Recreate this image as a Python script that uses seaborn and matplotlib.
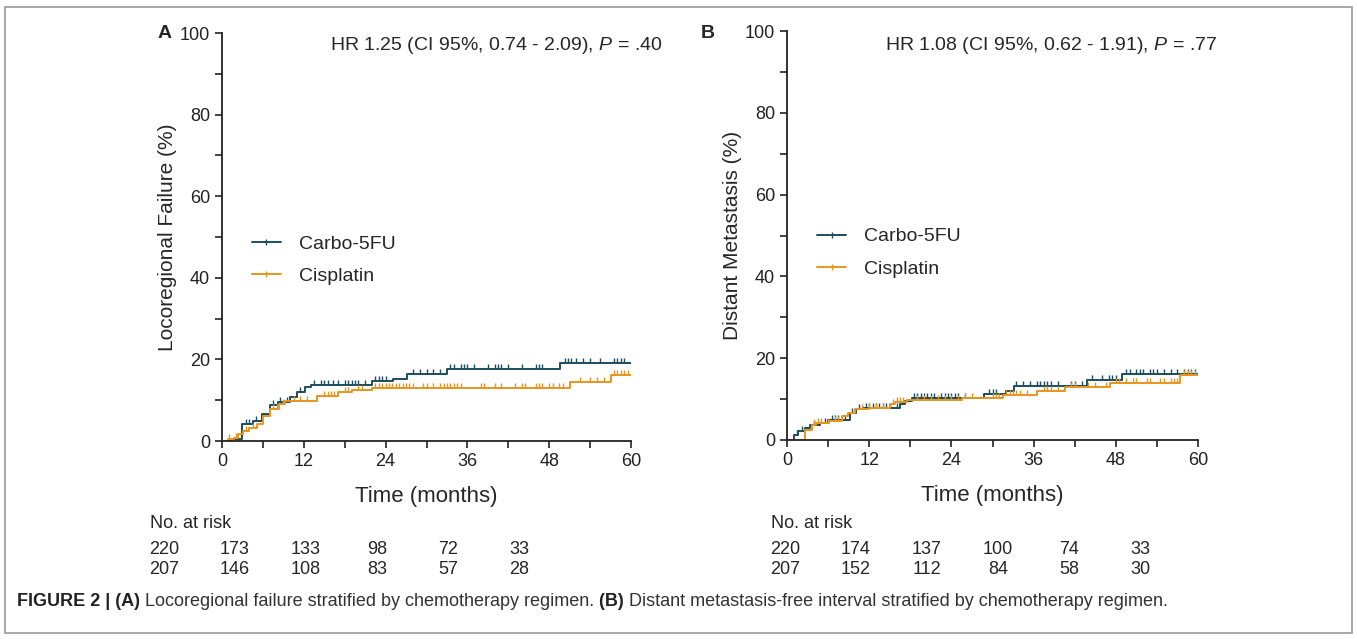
import numpy as np
import seaborn as sns
import matplotlib.pyplot as plt
from matplotlib.lines import Line2D
from matplotlib.patches import Rectangle

# cumulative incidence steps (months, %)
a_carbo_t = [0, 1.5, 2.9, 4.5, 5.8, 7.0, 8.2, 10.0, 11.0, 12.2, 13.0, 22.0, 25.1, 27.1, 33.0, 49.6, 60]
a_carbo_v = [0, 0.6, 4.1, 4.8, 6.6, 8.8, 9.5, 10.7, 12.0, 13.2, 13.8, 14.7, 15.3, 16.5, 17.6, 19.0, 19.0]
a_cis_t = [0, 0.9, 1.7, 2.4, 3.1, 3.9, 5.1, 6.0, 7.0, 8.3, 9.2, 14.0, 17.0, 19.1, 22.0, 51.0, 57.0, 60]
a_cis_v = [0, 0.4, 0.8, 1.7, 2.5, 3.3, 4.1, 6.2, 7.9, 9.1, 9.7, 11.0, 11.9, 12.4, 12.9, 14.4, 16.2, 16.2]

b_carbo_t = [0, 1.0, 1.6, 2.6, 3.3, 4.8, 6.0, 9.2, 10.1, 11.1, 16.5, 17.2, 18.2, 28.7, 31.9, 33.1, 43.8, 48.9, 60]
b_carbo_v = [0, 1.2, 2.1, 2.9, 3.7, 4.2, 5.0, 6.7, 7.5, 7.9, 8.7, 9.6, 10.2, 11.2, 12.1, 13.3, 14.6, 16.2, 16.2]
b_cis_t = [0, 2.7, 3.6, 4.3, 6.2, 8.0, 8.9, 9.9, 11.9, 15.0, 15.8, 17.5, 25.5, 31.5, 36.5, 40.6, 47.2, 57.4, 60]
b_cis_v = [0, 2.5, 3.7, 4.2, 4.6, 5.8, 6.7, 7.5, 7.9, 8.7, 9.3, 9.8, 10.3, 10.9, 11.9, 12.9, 13.9, 15.8, 15.8]

# censored observations (months)
a_carbo_cens = [3.5, 4.0, 5.0, 7.5, 8.5, 9.5, 11.5, 13.5, 14.5, 15.0, 15.5, 16.3, 17.0, 18.0, 18.5, 19.0,
                19.5, 20.0, 21.0, 22.5, 23.0, 23.5, 24.0, 28.0, 29.0, 30.0, 31.0, 32.0, 33.5, 34.0, 35.0,
                35.5, 36.0, 37.0, 39.0, 40.0, 40.5, 41.0, 42.0, 44.0, 46.0, 46.5, 47.0, 50.3, 50.7, 51.2,
                52.0, 53.0, 54.0, 55.5, 57.5, 58.0, 58.5, 59.0]
a_cis_cens = [1.0, 2.0, 3.5, 4.5, 7.5, 8.0, 9.0, 10.5, 11.5, 12.5, 15.0, 15.5, 16.0, 16.5, 18.0, 18.5,
              20.0, 20.5, 22.5, 23.0, 23.5, 24.0, 24.5, 25.0, 25.5, 26.0, 26.5, 27.0, 27.5, 28.0, 29.5,
              30.0, 31.0, 32.0, 32.5, 33.0, 33.5, 34.0, 34.5, 35.0, 38.0, 38.5, 40.0, 41.0, 43.0, 44.0,
              44.5, 46.0, 46.5, 47.0, 48.0, 48.5, 49.5, 50.0, 52.5, 54.0, 55.0, 56.0, 57.5, 58.0, 58.5,
              59.0, 59.5]
b_carbo_cens = [1.5, 2.2, 4.0, 5.5, 6.5, 7.0, 7.5, 8.5, 9.5, 10.5, 11.5, 12.0, 12.5, 13.0, 13.5, 14.0,
                14.5, 15.0, 16.0, 18.5, 19.0, 19.5, 20.0, 20.5, 21.0, 21.5, 22.5, 23.0, 23.5, 24.0, 24.5,
                25.0, 26.0, 29.5, 30.0, 30.5, 33.5, 34.5, 35.5, 36.5, 37.0, 37.5, 38.0, 38.5, 39.5, 41.5,
                42.0, 43.0, 44.5, 46.0, 47.0, 47.5, 48.0, 49.5, 50.0, 51.0, 51.5, 52.0, 53.0, 53.5, 54.0,
                55.0, 56.0, 57.0, 58.0, 58.5, 59.0, 59.5]
b_cis_cens = [3.5, 4.0, 4.5, 5.0, 6.0, 7.0, 7.5, 11.0, 12.0, 13.0, 14.0, 15.5, 16.0, 16.5, 17.0, 19.0,
              20.0, 21.0, 22.0, 23.0, 24.0, 25.0, 26.0, 27.0, 30.0, 30.5, 31.0, 32.0, 32.5, 33.0, 33.5,
              34.0, 35.0, 37.5, 38.0, 38.5, 39.5, 41.5, 42.0, 44.0, 45.0, 46.5, 48.0, 48.5, 49.5, 50.5,
              51.0, 52.5, 53.0, 54.5, 55.0, 56.0, 56.5, 57.0, 58.0, 58.5, 59.0, 59.5]

groups = ["Carbo-5FU", "Cisplatin"]
risk_a = [[220, 173, 133, 98, 72, 33], [207, 146, 108, 83, 57, 28]]
risk_b = [[220, 174, 137, 100, 74, 33], [207, 152, 112, 84, 58, 30]]
hr_a = ("HR 1.25 (CI 95%, 0.74 - 2.09), ", ".40")
hr_b = ("HR 1.08 (CI 95%, 0.62 - 1.91), ", ".77")

colors = {"Carbo-5FU": "#1c4e5e", "Cisplatin": "#e8951f"}

sns.set_style("ticks")
plt.rcParams["font.family"] = ["Liberation Sans", "DejaVu Sans"]
plt.rcParams["mathtext.fontset"] = "custom"
plt.rcParams["mathtext.it"] = "Liberation Sans:italic"

W, H = 1357, 639
fig = plt.figure(figsize=(W / 100, H / 100), dpi=100)


def fx(px):
    return px / W


def fy(py):
    return 1 - py / H


def km_panel(ax, series, ylabel, leg_y):
    for name, t, v, cens in series:
        c = colors[name]
        sns.lineplot(x=t, y=v, drawstyle="steps-post", color=c, lw=1.4, ax=ax,
                     errorbar=None, legend=False)
        t = np.array(t)
        v = np.array(v)
        idx = np.searchsorted(t, cens, side="right") - 1
        ax.plot(cens, v[idx], linestyle="", marker=[(0, 0), (0, 1)], ms=7,
                mew=1.0, color=c)
    ax.set_xlim(0, 60)
    ax.set_ylim(0, 100)
    ax.set_xticks(range(0, 61, 12))
    ax.set_xticks(range(6, 60, 12), minor=True)
    ax.set_yticks(range(0, 101, 20))
    ax.set_yticks(range(10, 100, 20), minor=True)
    ax.tick_params(which="both", direction="out", length=5, width=1.2, labelsize=13,
                   colors="#222222")
    sns.despine(ax=ax)
    for s in ("left", "bottom"):
        ax.spines[s].set_linewidth(1.3)
        ax.spines[s].set_color("#222222")
    ax.set_xlabel("Time (months)", fontsize=16, labelpad=12)
    ax.set_ylabel(ylabel, fontsize=15, labelpad=2)
    handles = [Line2D([0], [0], color=colors[g], lw=1.4, marker="|", ms=5) for g in groups]
    ax.legend(handles, groups, loc="center left", bbox_to_anchor=(0.073, leg_y), frameon=False,
              fontsize=14, handlelength=1.5, handletextpad=0.9, labelspacing=0.75,
              borderpad=0, borderaxespad=0)


ax_a = fig.add_axes([fx(222), fy(441), fx(631 - 222), (441 - 33) / H])
ax_b = fig.add_axes([fx(787), fy(440), fx(1198 - 787), (440 - 31) / H])

km_panel(ax_a, [("Carbo-5FU", a_carbo_t, a_carbo_v, a_carbo_cens),
                ("Cisplatin", a_cis_t, a_cis_v, a_cis_cens)], "Locoregional Failure (%)", 0.443)
km_panel(ax_b, [("Carbo-5FU", b_carbo_t, b_carbo_v, b_carbo_cens),
                ("Cisplatin", b_cis_t, b_cis_v, b_cis_cens)], "Distant Metastasis (%)", 0.458)

# hazard ratio texts
fig.text(fx(330), fy(45), hr_a[0] + r"$\it{P}$" + " = " + hr_a[1], fontsize=14,
         ha="left", va="center")
fig.text(fx(885), fy(45), hr_b[0] + r"$\it{P}$" + " = " + hr_b[1], fontsize=14,
         ha="left", va="center")

fig.text(fx(165), fy(33), "A", fontsize=14, fontweight="bold", ha="center", va="center")
fig.text(fx(708), fy(33), "B", fontsize=14, fontweight="bold", ha="center", va="center")

# number at risk tables
for x0, rows in [(164, risk_a), (785, risk_b)]:
    fig.text(fx(x0 - 14), fy(524), "No. at risk", fontsize=13, ha="left", va="center")
    for r, row in enumerate(rows):
        for k, n in enumerate(row):
            fig.text(fx(x0 + k * 71), fy(549 + r * 20), str(n), fontsize=13,
                     ha="center", va="center")

# caption, pieces laid out one after another
renderer = fig.canvas.get_renderer()
pieces = [("FIGURE 2 | (A) ", "bold", "#222222"),
          ("Locoregional failure stratified by chemotherapy regimen. ", "normal", "#333333"),
          ("(B) ", "bold", "#222222"),
          ("Distant metastasis-free interval stratified by chemotherapy regimen.", "normal", "#333333")]
xpos = 17
for txt, wt, col in pieces:
    t = fig.text(fx(xpos), fy(602), txt, fontsize=13, fontweight=wt, color=col,
                 ha="left", va="center")
    xpos += t.get_window_extent(renderer).width

fig.patches.append(Rectangle((fx(5), fy(633)), fx(1347), (633 - 7) / H, transform=fig.transFigure,
                             fill=False, edgecolor="#9a9a9a", lw=1.2))

fig.savefig("out.png", dpi=100)
